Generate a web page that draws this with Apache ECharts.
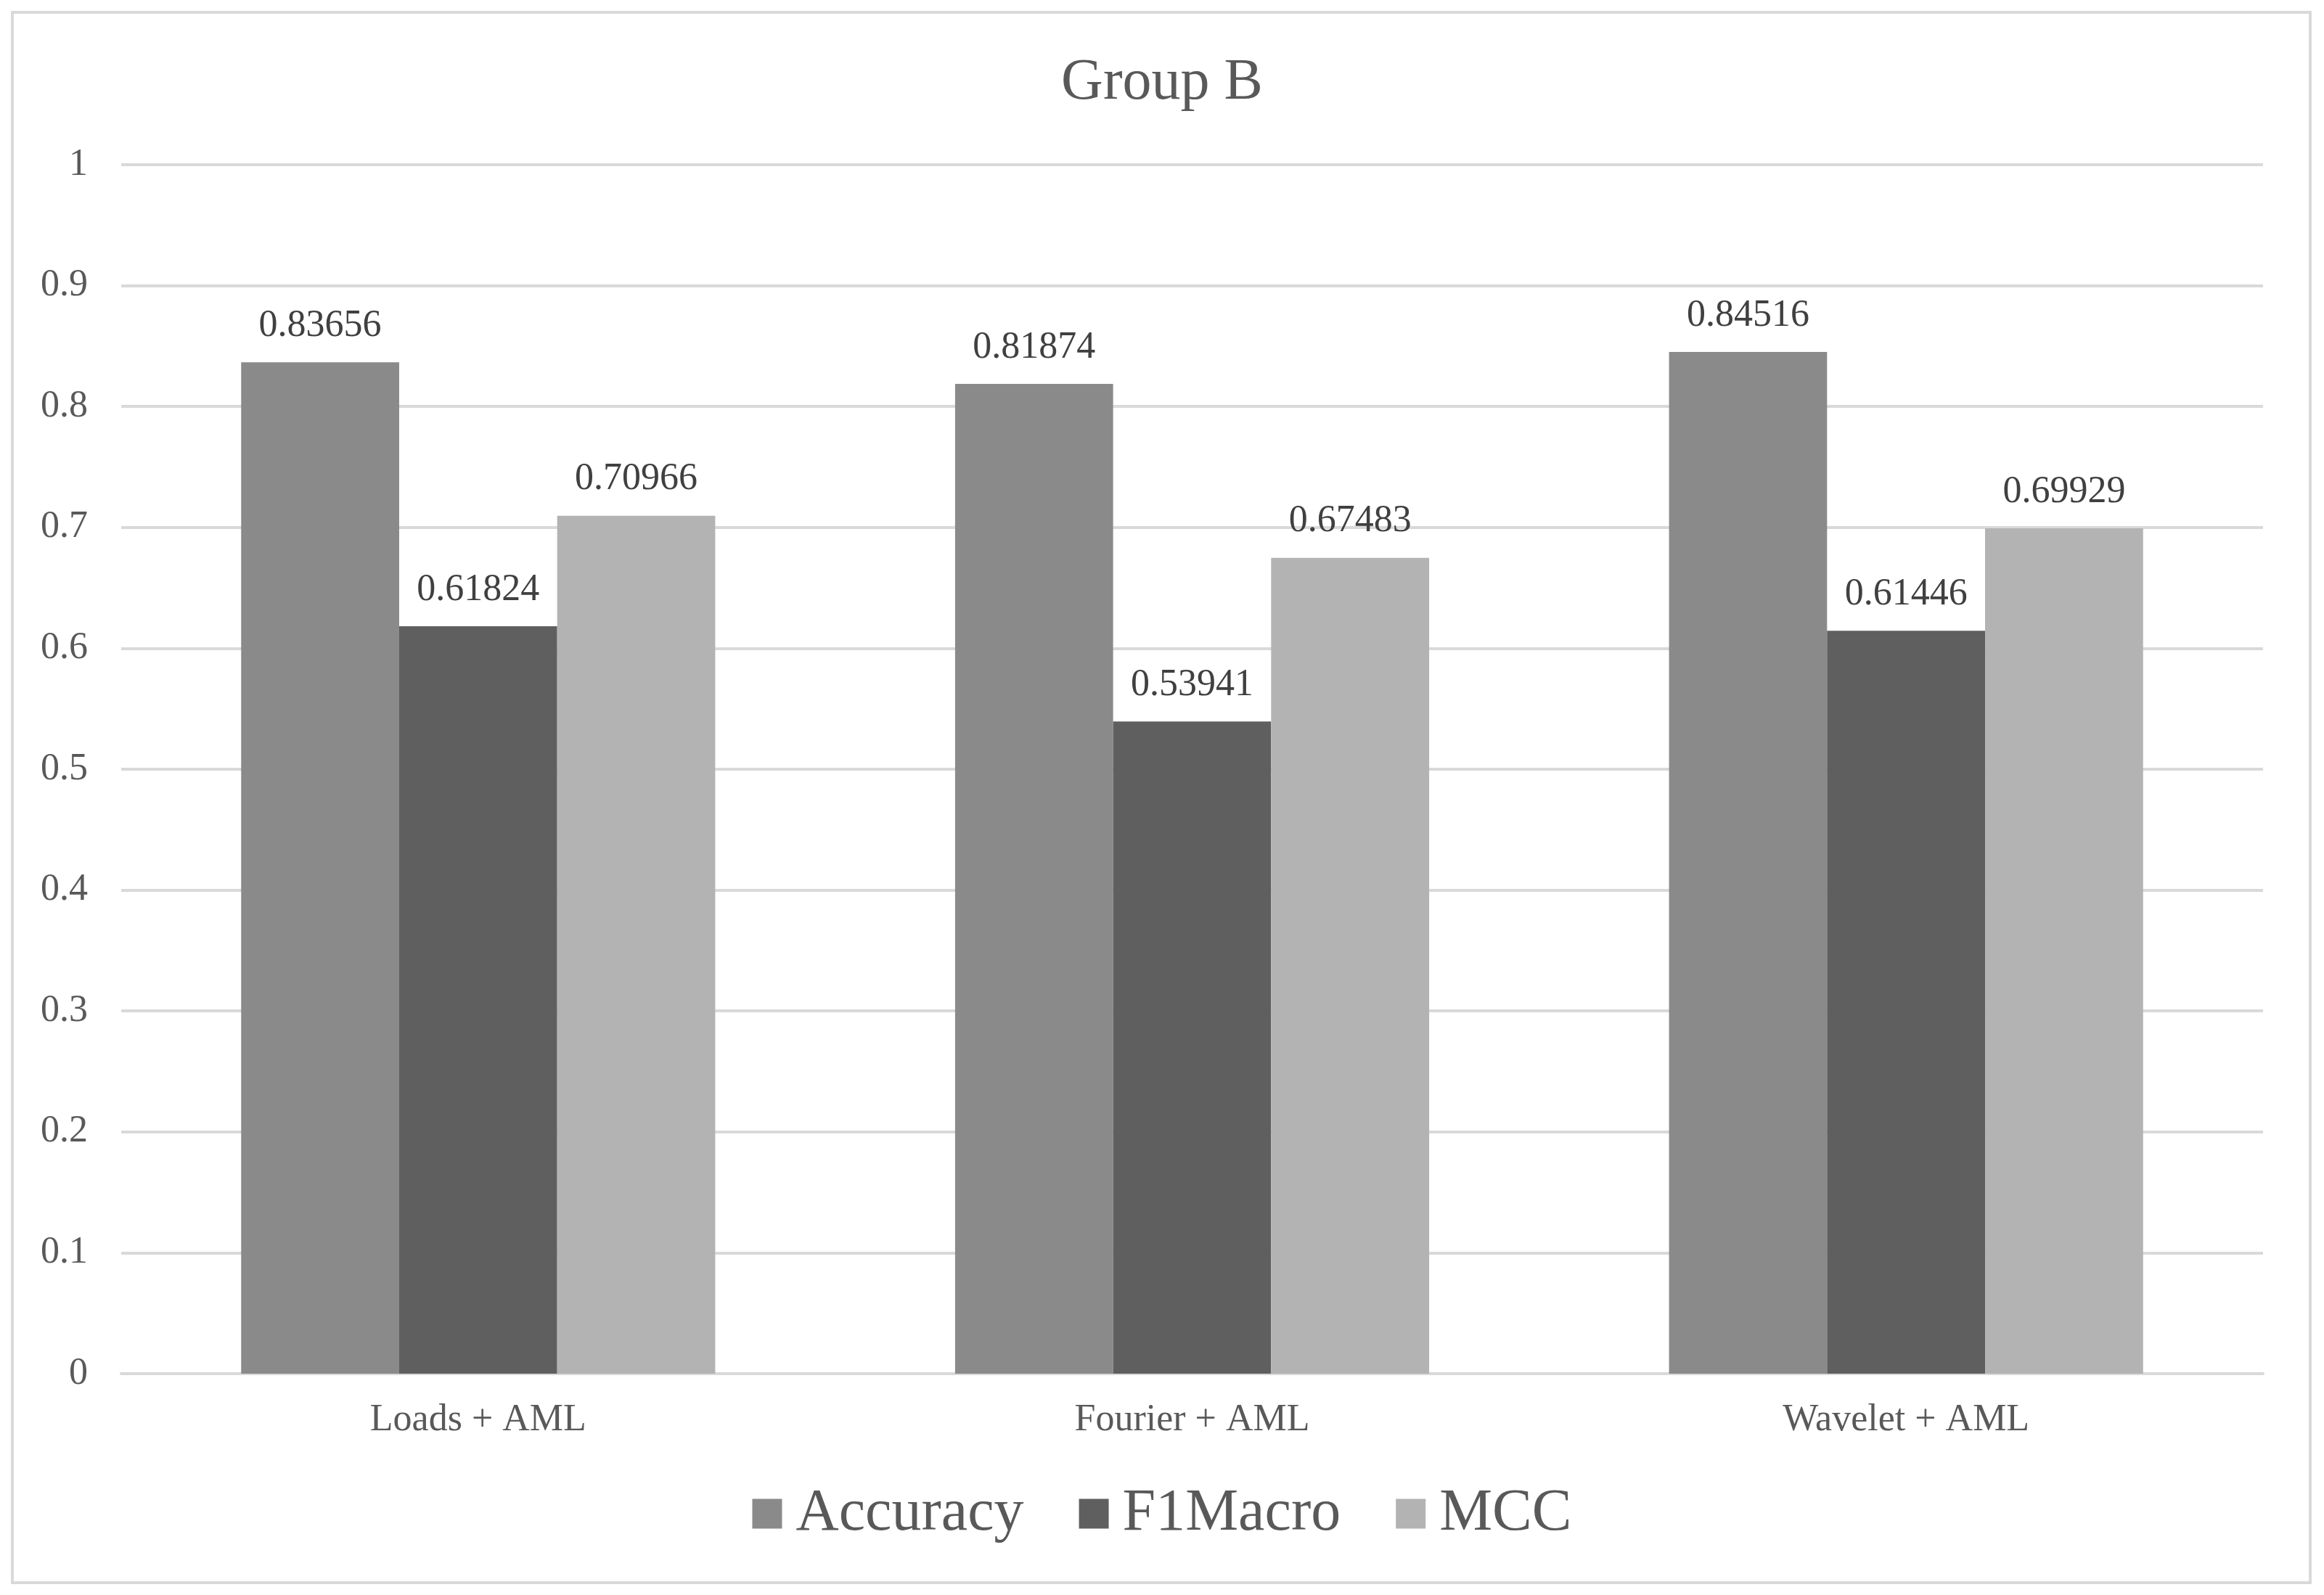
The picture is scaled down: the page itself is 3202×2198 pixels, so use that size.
<!DOCTYPE html>
<html><head><meta charset="utf-8">
<script src="https://cdn.jsdelivr.net/npm/echarts@6/dist/echarts.min.js"></script>
<style>html,body{margin:0;padding:0;background:#fff}#c{width:3202px;height:2198px}</style>
</head><body><div id="c"></div>
<script>
const categories = ['Loads + AML', 'Fourier + AML', 'Wavelet + AML'];
const accuracy = [0.83656, 0.81874, 0.84516];
const f1macro = [0.61824, 0.53941, 0.61446];
const mcc = [0.70966, 0.67483, 0.69929];
const yTicks = [0, 0.1, 0.2, 0.3, 0.4, 0.5, 0.6, 0.7, 0.8, 0.9, 1];

const FONT = '"Liberation Serif", "Times New Roman", serif';
const TXT = '#595959';
const chart = echarts.init(document.getElementById('c'));
function ser(name, data, color) {
  return {
    name, type: 'bar', data, barGap: '0%', barCategoryGap: '33.6%',
    itemStyle: { color },
    label: { show: true, position: 'top', distance: 24, color: '#404040', fontFamily: FONT, fontSize: 52,
      formatter: p => String(p.value) }
  };
}
chart.setOption({
  backgroundColor: '#fff',
  animation: false,
  title: { text: 'Group B', left: 'center', top: 70, textStyle: { fontFamily: FONT, fontSize: 80, fontWeight: 'normal', color: TXT } },
  legend: { bottom: 66, left: 'center', itemWidth: 41, itemHeight: 41, itemGap: 76,
    textStyle: { fontFamily: FONT, fontSize: 82, color: TXT, padding: [0, 0, 0, 14] },
    icon: 'rect', data: ['Accuracy', 'F1Macro', 'MCC'] },
  grid: { left: 167, right: 84, top: 227, bottom: 305, containLabel: false },
  xAxis: { type: 'category', data: categories,
    axisLine: { show: true, lineStyle: { color: '#d9d9d9', width: 4 } },
    axisTick: { show: false },
    axisLabel: { fontFamily: FONT, fontSize: 52, color: TXT, margin: 38 } },
  yAxis: { type: 'value', min: 0, max: 1, interval: 0.1,
    axisLine: { show: false }, axisTick: { show: false },
    splitLine: { lineStyle: { color: '#d9d9d9', width: 4 } },
    axisLabel: { fontFamily: FONT, fontSize: 52, color: TXT, margin: 46,
      formatter: v => { const t = yTicks.find(x => Math.abs(x - v) < 1e-9); return String(t !== undefined ? t : +v.toFixed(1)); } } },
  graphic: [{ type: 'rect', shape: { x: 17, y: 17, width: 3166, height: 2164 }, style: { fill: 'none', stroke: '#d9d9d9', lineWidth: 4 }, silent: true }],
  series: [ser('Accuracy', accuracy, '#8a8a8a'), ser('F1Macro', f1macro, '#5f5f5f'), ser('MCC', mcc, '#b3b3b3')]
});
</script></body></html>
